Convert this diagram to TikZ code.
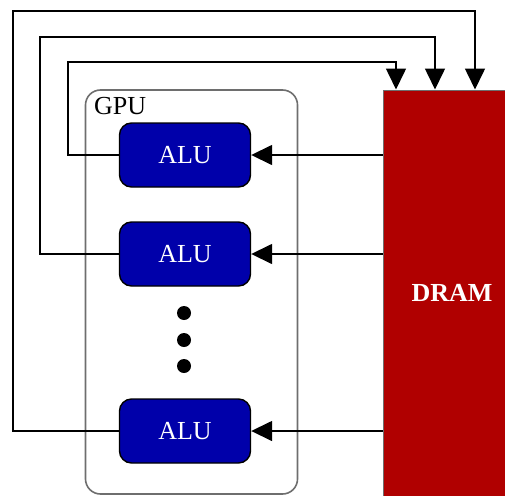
\documentclass[tikz,border=0pt]{standalone}
\usepackage{fontspec}
\setmainfont{Liberation Serif}
\usetikzlibrary{arrows.meta}
\definecolor{alublue}{RGB}{0,0,170}
\definecolor{dramred}{RGB}{176,0,0}
\definecolor{gpugray}{RGB}{110,110,110}
\begin{document}
\begin{tikzpicture}[x=1pt,y=-1pt,
  wire/.style={line width=1.6pt,black},
  arr/.style={wire,-{Triangle[length=21pt,width=20pt]}},
  alubox/.style={draw=black,line width=1.4pt,fill=alublue,rounded corners=12pt,
    minimum width=131pt,minimum height=64pt,inner sep=0pt,
    text=white,font=\fontsize{26}{26}\selectfont},
  dot/.style={circle,fill=black,inner sep=0pt,minimum size=14pt}]
\useasboundingbox (0,0) rectangle (505,495);
% GPU box
\node[draw=gpugray,line width=1.6pt,rounded corners=15pt,minimum width=212pt,minimum height=404pt,inner sep=0pt] (gpu) at (191.5,292) {};
\node[anchor=north west,inner sep=0pt,font=\fontsize{26}{26}\selectfont] (gpulbl) at (94,97) {GPU};
% DRAM
\node[fill=dramred,draw=gpugray,line width=1pt,minimum width=138pt,minimum height=406pt,inner sep=0pt,
  text=white,font=\bfseries\fontsize{26}{26}\selectfont] (dram) at (452,293) {DRAM};
% ALUs
\node[alubox] (alu1) at (185,155) {ALU};
\node[alubox] (alu2) at (185,254) {ALU};
\node[alubox] (alu3) at (185,431) {ALU};
% dots
\node[dot] (d1) at (184,313) {};
\node[dot] (d2) at (184,340) {};
\node[dot] (d3) at (184,366) {};
% coordinates for loops
\coordinate (c1) at (68,62);
\coordinate (e1) at (396,62);
\coordinate (c2) at (40,37);
\coordinate (e2) at (435,37);
\coordinate (c3) at (13,11);
\coordinate (e3) at (475,11);
% loops
\draw[arr] (alu1.west) -| (c1) -- (e1) -- (e1 |- dram.north);
\draw[arr] (alu2.west) -| (c2) -- (e2) -- (e2 |- dram.north);
\draw[arr] (alu3.west) -| (c3) -- (e3) -- (e3 |- dram.north);
% DRAM to ALU
\draw[arr] (alu1 -| dram.west) -- (alu1.east);
\draw[arr] (alu2 -| dram.west) -- (alu2.east);
\draw[arr] (alu3 -| dram.west) -- (alu3.east);
\end{tikzpicture}
\end{document}
